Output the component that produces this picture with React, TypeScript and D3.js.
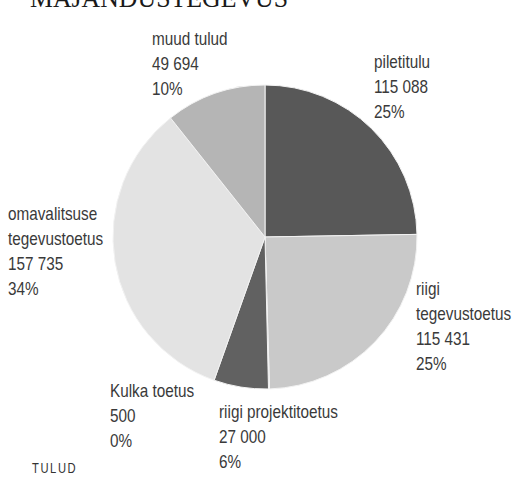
import React from "react";
import * as d3 from "d3";

const categories = [
  "piletitulu",
  "riigi tegevustoetus",
  "Kulka toetus",
  "riigi projektitoetus",
  "omavalitsuse tegevustoetus",
  "muud tulud",
];
const values = [115088, 115431, 500, 27000, 157735, 49694];
const percentLabels = ["25%", "25%", "0%", "6%", "34%", "10%"];
const labelLines = [
  ["piletitulu"],
  ["riigi", "tegevustoetus"],
  ["Kulka toetus"],
  ["riigi projektitoetus"],
  ["omavalitsuse", "tegevustoetus"],
  ["muud tulud"],
];
const sliceColors = ["#585858", "#c9c9c9", "#ececec", "#616161", "#e3e3e3", "#b5b5b5"];
// label anchor (x, first baseline) per category
const labelPos: [number, number][] = [
  [374, 68],
  [416, 295],
  [110, 397],
  [219, 418],
  [8, 220],
  [152, 45],
];

const W = 512;
const H = 477;
const cx = 265;
const cy = 237;
const R = 152;
const lineH = 25;
const sx = 0.85;

const fmt = d3.formatLocale({ decimal: ",", thousands: " ", grouping: [3], currency: ["", ""] }).format(",d");

export default function App() {
  const pie = d3.pie<number>().sort(null).value((d) => d)(values);
  const arc = d3.arc<d3.PieArcDatum<number>>().innerRadius(0).outerRadius(R);
  const font = "'Liberation Sans', Arial, sans-serif";
  return (
    <div style={{ position: "fixed", left: 0, top: 0, width: W, height: H, background: "#fff" }}>
      <svg width={W} height={H} style={{ display: "block" }}>
        <rect width={W} height={H} fill="#fff" />
        <text
          x={30}
          y={7}
          fontFamily="'Liberation Serif', 'DejaVu Serif', serif"
          fontSize={27}
          fill="#1a1a1a"
          textLength={258}
          lengthAdjust="spacingAndGlyphs"
        >
          MAJANDUSTEGEVUS
        </text>
        <g transform={`translate(${cx},${cy})`}>
          {pie.map((p, i) => (
            <path
              key={categories[i]}
              d={arc(p) || ""}
              fill={sliceColors[i]}
              stroke="#f2f2f2"
              strokeWidth={1}
            />
          ))}
        </g>
        {categories.map((c, i) => {
          const [x, y] = labelPos[i];
          const lines = [...labelLines[i], fmt(values[i]), percentLabels[i]];
          return (
            <text
              key={c}
              transform={`translate(${x},${y}) scale(${sx},1)`}
              fontFamily={font}
              fontSize={18}
              fill="#3a3a3a"
            >
              {lines.map((l, j) => (
                <tspan key={j} x={0} y={j * lineH}>
                  {l}
                </tspan>
              ))}
            </text>
          );
        })}
        <text
          transform={`translate(32,473) scale(0.8,1)`}
          fontFamily={font}
          fontSize={14}
          letterSpacing={2}
          fill="#333"
        >
          TULUD
        </text>
      </svg>
    </div>
  );
}
